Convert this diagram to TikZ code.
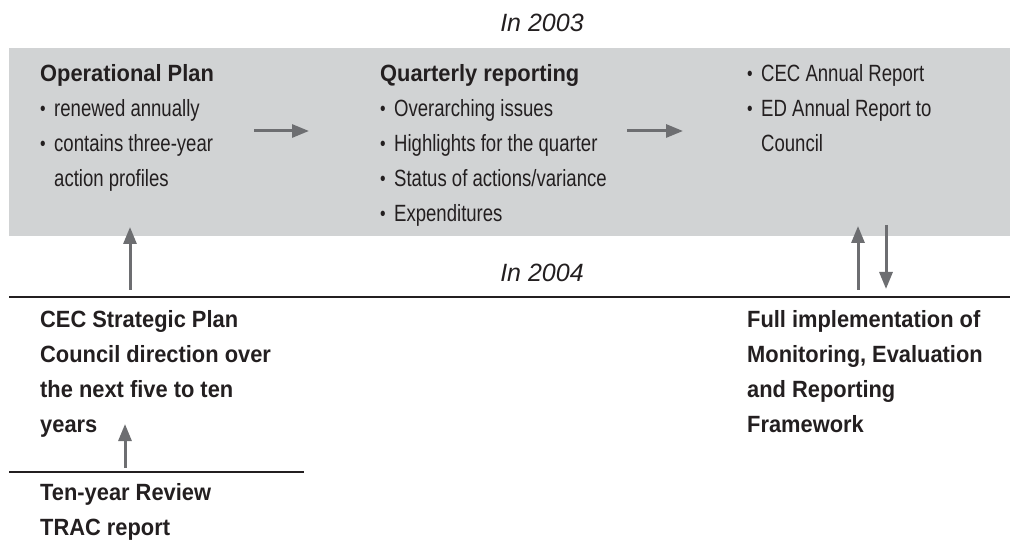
\documentclass[tikz,border=0pt]{standalone}
\usepackage{fontspec}
\setmainfont{Liberation Sans}[BoldFeatures={FakeStretch=0.93}]
\newfontfamily\condensed[FakeStretch=0.79]{Liberation Sans}
\usetikzlibrary{arrows.meta}
\definecolor{band}{HTML}{D1D3D4}
\definecolor{arrowgray}{HTML}{6D6E71}
\definecolor{ink}{HTML}{231F20}
\newcommand{\bul}{\raisebox{0.06em}{\scalebox{0.85}{\textbullet}}\hspace{0.36em}}
\newcommand{\hang}{\phantom{\bul}}
\newcommand{\head}[1]{{\rmfamily\bfseries #1}}
\tikzset{
block/.style={
anchor=base west,
inner sep=0pt,
align=left,
text=ink,
font=\condensed\fontsize{23.5}{35}\selectfont
},
boldblock/.style={
block,
font=\bfseries\fontsize{23.5}{35}\selectfont
},
year/.style={
anchor=base,
inner sep=0pt,
text=ink,
font=\itshape\fontsize{25}{30}\selectfont
},
flow/.style={
-{Triangle[length=17pt,width=13pt]},
line width=3pt,
draw=arrowgray
},
rule/.style={
line width=1.2pt,
draw=ink
}
}

\begin{document}
\begin{tikzpicture}[x=1pt,y=1pt]
\useasboundingbox (0,0) rectangle (1010,-540);
% shaded band and dividing rules
\fill[band] (9,-48) rectangle (1010,-236);
\draw[rule] (9,-297) -- (1010,-297);
\draw[rule] (9,-472) -- (304,-472);
\node[year](y3) at (542,-32){In 2003};
\node[year](y4) at (542,-282){In 2004};

% blocks sit on the baseline of their last line
\node[block](op) at (40,-187){\head{Operational Plan}\\\bul renewed annually\\\bul contains three-year\\\hang action profiles};
\node[block](qr) at (380,-222){\head{Quarterly reporting}\\\bul Overarching issues\\\bul Highlights for the quarter\\\bul Status of actions/variance\\\bul Expenditures};
\node[block](ar) at (747,-152){\bul CEC Annual Report\\\bul ED Annual Report to\\\hang Council};
\node[boldblock](sp) at (40,-432){CEC Strategic Plan\\Council direction over\\the next five to ten\\years};
\node[boldblock](tr) at (40,-535){Ten-year Review\\TRAC report};
\node[boldblock](mer) at (747,-432){Full implementation of\\Monitoring, Evaluation\\and Reporting\\Framework};

% arrow ends
\coordinate (op-out) at (254,-131);
\coordinate (qr-in) at (309,-131);
\coordinate (qr-out) at (627,-131);
\coordinate (ar-in) at (683,-131);
\coordinate (op-in) at (130,-227);
\coordinate (sp-out) at (130,-290);
\coordinate (sp-in) at (125,-424);
\coordinate (tr-out) at (125,-468);
\coordinate (ar-up) at (858,-226);
\coordinate (mer-out) at (858,-290);
\coordinate (ar-down) at (886,-225);
\coordinate (mer-in) at (886,-289);

\draw[flow](op-out)--(qr-in);
\draw[flow](qr-out)--(ar-in);
\draw[flow](sp-out)--(op-in);
\draw[flow](tr-out)--(sp-in);
\draw[flow](mer-out)--(ar-up);
\draw[flow](ar-down)--(mer-in);
\end{tikzpicture}
\end{document}
